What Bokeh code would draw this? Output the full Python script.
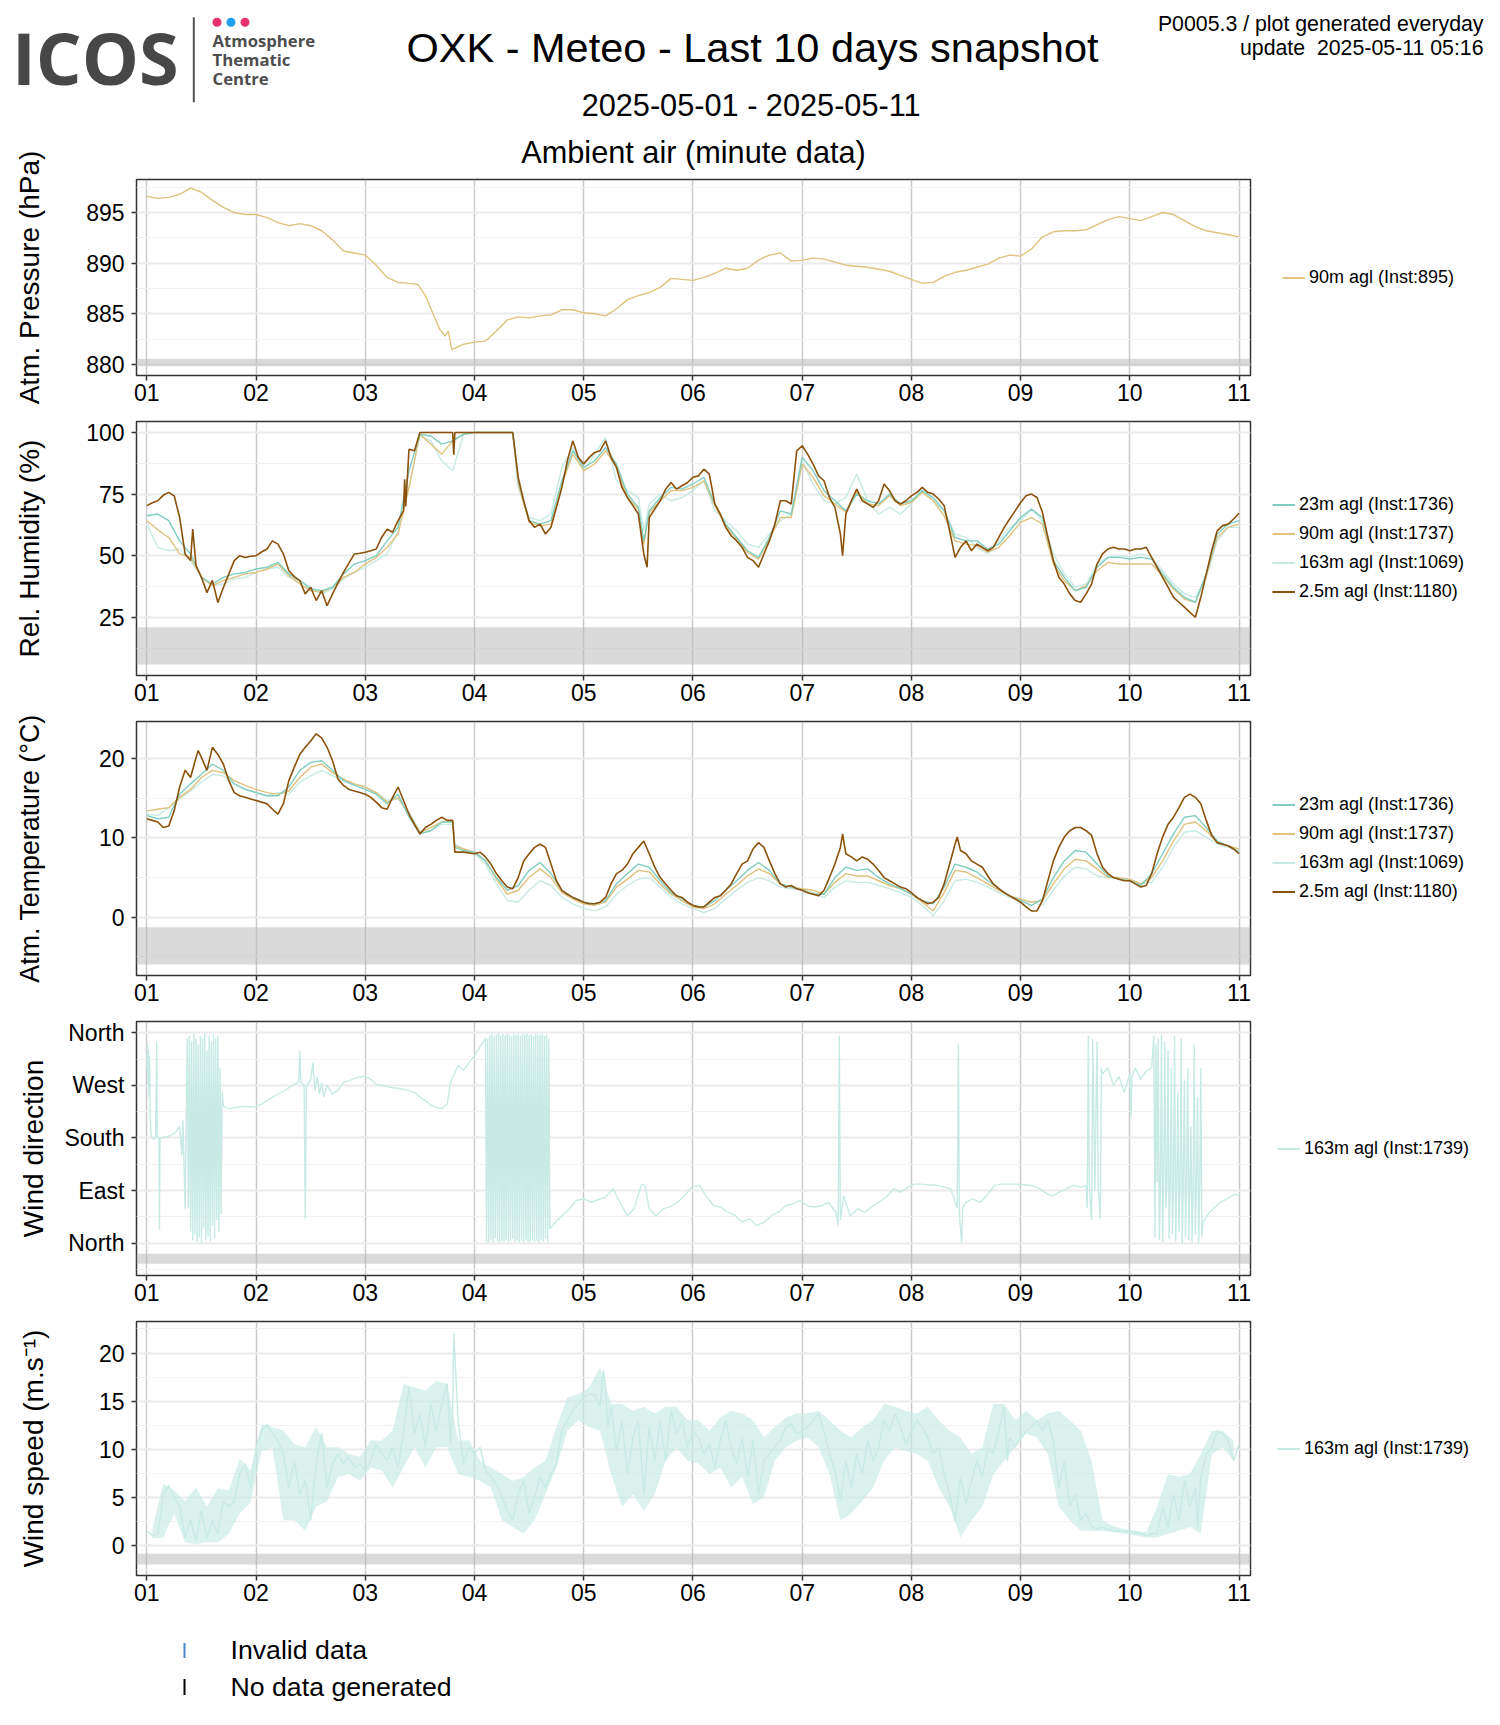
from bokeh.plotting import figure
from bokeh.models import Range1d, FixedTicker, Legend, LegendItem, BoxAnnotation
from bokeh.layouts import row
from bokeh.embed import file_html
from bokeh.resources import INLINE
from bokeh.core.properties import value

FONT = "Liberation Sans"

# ---------------- data (day offset from 2025-05-01 00:00) ----------------
day_ticks = [0, 1, 2, 3, 4, 5, 6, 7, 8, 9, 10]
day_labels = ["01", "02", "03", "04", "05", "06", "07", "08", "09", "10", "11"]

pres_90m = [(0.0, 896.6), (0.1, 896.4), (0.2, 896.5), (0.3, 896.8), (0.4, 897.4), (0.5, 897.0), (0.6, 896.2),
            (0.7, 895.5), (0.8, 895.0), (0.9, 894.8), (1.0, 894.8), (1.1, 894.5), (1.2, 894.0), (1.3, 893.7),
            (1.4, 893.9), (1.5, 893.7), (1.6, 893.2), (1.7, 892.3), (1.8, 891.2), (1.9, 891.0), (2.0, 890.8),
            (2.1, 889.8), (2.2, 888.6), (2.3, 888.1), (2.4, 888.0), (2.48, 887.9), (2.55, 886.8), (2.62, 885.0),
            (2.68, 883.5), (2.73, 882.8), (2.76, 883.3), (2.79, 881.5), (2.82, 881.6), (2.9, 882.0), (3.0, 882.2),
            (3.1, 882.3), (3.2, 883.3), (3.3, 884.4), (3.4, 884.7), (3.5, 884.6), (3.6, 884.8), (3.7, 884.9),
            (3.8, 885.4), (3.9, 885.4), (4.0, 885.1), (4.1, 885.0), (4.2, 884.8), (4.3, 885.5), (4.4, 886.4),
            (4.5, 886.8), (4.6, 887.1), (4.7, 887.6), (4.8, 888.5), (4.9, 888.4), (5.0, 888.3), (5.1, 888.6),
            (5.2, 889.0), (5.3, 889.5), (5.4, 889.3), (5.5, 889.5), (5.6, 890.3), (5.7, 890.8), (5.8, 891.0),
            (5.9, 890.2), (6.0, 890.3), (6.1, 890.5), (6.2, 890.4), (6.3, 890.1), (6.4, 889.8), (6.5, 889.7),
            (6.6, 889.6), (6.7, 889.4), (6.8, 889.2), (6.9, 888.8), (7.0, 888.4), (7.1, 888.0), (7.2, 888.1),
            (7.3, 888.7), (7.4, 889.1), (7.5, 889.3), (7.6, 889.6), (7.7, 889.9), (7.8, 890.5), (7.9, 890.8),
            (8.0, 890.7), (8.1, 891.4), (8.2, 892.6), (8.3, 893.1), (8.4, 893.2), (8.5, 893.2), (8.6, 893.3),
            (8.7, 893.8), (8.8, 894.3), (8.9, 894.6), (9.0, 894.4), (9.1, 894.2), (9.2, 894.6), (9.3, 895.0),
            (9.4, 894.8), (9.5, 894.2), (9.6, 893.6), (9.7, 893.2), (9.8, 893.0), (9.9, 892.8), (10.0, 892.6)]

rh_2_5m = [(0.00, 70.3), (0.05, 71.5), (0.10, 72.3), (0.15, 74.5), (0.20, 75.7), (0.25, 74.3), (0.30, 65.5),
           (0.35, 50.7), (0.40, 48.0), (0.42, 60.8), (0.45, 46.0), (0.50, 41.2), (0.55, 35.0), (0.60, 40.0),
           (0.65, 31.0), (0.70, 37.0), (0.75, 42.5), (0.80, 48.0), (0.85, 50.0), (0.90, 49.3), (0.95, 49.8),
           (1.00, 50.0), (1.05, 51.5), (1.10, 52.7), (1.15, 56.0), (1.20, 54.7), (1.25, 50.7), (1.30, 43.9),
           (1.35, 41.5), (1.40, 39.9), (1.45, 34.5), (1.50, 37.2), (1.55, 31.8), (1.60, 35.8), (1.65, 29.7),
           (1.70, 34.5), (1.75, 39.0), (1.80, 43.2), (1.85, 47.0), (1.90, 50.7), (1.95, 51.0), (2.00, 51.4),
           (2.05, 52.0), (2.10, 52.7), (2.15, 57.4), (2.20, 60.8), (2.25, 59.5), (2.30, 64.2), (2.35, 68.2),
           (2.36, 81.0), (2.37, 70.0), (2.40, 93.2), (2.45, 92.6), (2.50, 100), (2.80, 100), (2.81, 91.0),
           (2.82, 100), (3.35, 100), (3.40, 81.8), (3.45, 72.3), (3.50, 64.2), (3.55, 61.5), (3.60, 62.8),
           (3.65, 58.8), (3.70, 61.5), (3.75, 69.6), (3.80, 77.7), (3.85, 88.5), (3.90, 96.6), (3.95, 89.9),
           (4.00, 87.2), (4.05, 89.9), (4.10, 91.9), (4.15, 92.6), (4.20, 96.6), (4.25, 89.9), (4.30, 85.8),
           (4.35, 77.7), (4.40, 73.6), (4.45, 70.3), (4.50, 66.9), (4.55, 50.7), (4.58, 45.3), (4.60, 65.5),
           (4.65, 68.9), (4.70, 72.3), (4.75, 77.0), (4.80, 79.7), (4.85, 77.0), (4.90, 78.4), (4.95, 79.7),
           (5.00, 81.8), (5.05, 82.4), (5.10, 85.1), (5.15, 83.1), (5.20, 71.0), (5.25, 66.9), (5.30, 61.5),
           (5.35, 58.1), (5.40, 56.0), (5.45, 53.4), (5.50, 49.3), (5.55, 48.0), (5.60, 45.3), (5.65, 50.7),
           (5.70, 56.0), (5.75, 62.8), (5.80, 72.3), (5.85, 72.3), (5.90, 71.0), (5.95, 92.6), (6.00, 94.6),
           (6.05, 91.2), (6.10, 87.2), (6.15, 82.4), (6.20, 80.4), (6.25, 73.6), (6.30, 69.6), (6.35, 58.8),
           (6.37, 50.0), (6.40, 66.9), (6.45, 72.3), (6.50, 77.0), (6.55, 72.3), (6.60, 71.0), (6.65, 69.6),
           (6.70, 72.3), (6.75, 79.1), (6.80, 76.4), (6.85, 72.3), (6.90, 71.0), (6.95, 72.3), (7.00, 74.3),
           (7.05, 75.7), (7.10, 77.7), (7.15, 75.7), (7.20, 75.0), (7.25, 73.0), (7.30, 70.3), (7.35, 60.1),
           (7.40, 49.3), (7.45, 53.4), (7.50, 56.0), (7.55, 52.0), (7.60, 54.7), (7.65, 53.4), (7.70, 52.0),
           (7.75, 53.4), (7.80, 57.4), (7.85, 61.5), (7.90, 64.9), (7.95, 68.2), (8.00, 71.6), (8.05, 74.3),
           (8.10, 75.0), (8.15, 73.6), (8.20, 67.6), (8.25, 57.4), (8.30, 48.0), (8.35, 41.2), (8.40, 38.5),
           (8.45, 34.5), (8.50, 31.8), (8.55, 31.1), (8.60, 34.5), (8.65, 38.5), (8.70, 46.6), (8.75, 50.7),
           (8.80, 52.7), (8.85, 53.4), (8.90, 52.7), (8.95, 52.7), (9.00, 52.0), (9.05, 52.7), (9.10, 52.7),
           (9.15, 53.4), (9.20, 49.3), (9.25, 45.3), (9.30, 41.2), (9.35, 37.2), (9.40, 33.1), (9.45, 31.1),
           (9.50, 29.1), (9.55, 27.0), (9.60, 25.0), (9.65, 33.1), (9.70, 42.6), (9.75, 52.0), (9.80, 60.1),
           (9.85, 62.2), (9.90, 62.8), (9.95, 64.9), (10.00, 67.2)]

t10 = [0.0, 0.1, 0.2, 0.3, 0.4, 0.5, 0.6, 0.7, 0.8, 0.9, 1.0, 1.1, 1.2, 1.3, 1.4, 1.5, 1.6, 1.7, 1.8, 1.9,
       2.0, 2.1, 2.2, 2.3, 2.4, 2.5, 2.6, 2.7, 2.8, 2.9, 3.0, 3.1, 3.2, 3.3, 3.35, 3.4, 3.5, 3.6, 3.7, 3.8, 3.9,
       4.0, 4.1, 4.2, 4.3, 4.4, 4.5, 4.55, 4.6, 4.7, 4.8, 4.9, 5.0, 5.1, 5.2, 5.3, 5.4, 5.5, 5.6, 5.7, 5.8, 5.9,
       6.0, 6.1, 6.2, 6.3, 6.4, 6.5, 6.6, 6.7, 6.8, 6.9, 7.0, 7.1, 7.2, 7.3, 7.4, 7.5, 7.6, 7.7, 7.8, 7.9,
       8.0, 8.1, 8.2, 8.3, 8.4, 8.5, 8.6, 8.7, 8.8, 8.9, 9.0, 9.1, 9.2, 9.3, 9.4, 9.5, 9.6, 9.7, 9.8, 9.9, 10.0]

rh_23m = [66.2, 66.9, 64.2, 56.0, 50.7, 41.2, 38.5, 41.2, 42.6, 43.2, 44.6, 45.3, 47.3, 42.6, 39.9, 36.5, 35.8,
          37.2, 42.6, 46.6, 48.0, 50.0, 56.0, 61.5, 84.5, 99.3, 98.6, 95.3, 96.6, 99.3, 100, 100, 100, 100, 100,
          80.4, 64.2, 62.8, 64.2, 80.4, 92.6, 85.8, 88.5, 93.9, 87.2, 75.0, 69.6, 56.0, 68.2, 73.6, 77.7, 77.0,
          79.1, 81.8, 71.0, 62.8, 57.4, 52.0, 49.3, 57.4, 68.2, 66.9, 89.9, 84.5, 76.4, 72.3, 68.2, 75.0, 72.3,
          71.0, 75.0, 71.0, 72.3, 76.4, 73.6, 68.2, 57.4, 56.0, 56.0, 52.7, 54.7, 60.1, 65.5, 68.9, 65.5, 48.0,
          41.2, 35.8, 37.2, 45.3, 49.3, 49.3, 48.6, 49.3, 48.6, 42.6, 37.2, 33.1, 31.1, 42.6, 58.8, 62.8, 64.2]
rh_90m = [64.2, 60.5, 57.4, 50.7, 49.3, 41.2, 37.8, 39.9, 41.2, 42.6, 43.2, 44.6, 46.6, 41.9, 38.5, 35.8, 35.1,
          37.2, 41.2, 43.2, 46.6, 49.3, 53.4, 58.8, 77.7, 99.3, 95.3, 91.2, 96.6, 99.3, 100, 100, 100, 100, 100,
          79.1, 63.5, 62.2, 62.8, 79.1, 91.2, 84.5, 87.2, 92.6, 85.8, 73.6, 68.9, 54.7, 67.6, 72.3, 76.4, 76.4,
          77.7, 80.4, 70.3, 62.2, 56.8, 51.4, 48.6, 56.8, 65.5, 65.5, 87.2, 81.8, 74.3, 71.0, 67.6, 75.7, 71.0,
          70.3, 74.3, 70.3, 71.6, 75.7, 72.3, 66.2, 56.0, 54.7, 54.1, 51.4, 53.4, 58.1, 63.5, 65.5, 62.8, 46.6,
          39.9, 35.8, 37.8, 43.9, 47.3, 46.6, 46.6, 46.6, 46.6, 41.9, 36.5, 32.4, 31.1, 41.9, 57.4, 61.5, 62.8]
rh_163m = [62.8, 53.4, 52.0, 52.7, 48.0, 41.2, 37.8, 38.5, 40.5, 41.2, 43.2, 44.6, 45.3, 41.2, 39.9, 37.2, 34.5,
           36.5, 40.5, 43.2, 45.3, 48.0, 50.7, 60.1, 77.7, 98.6, 96.6, 88.5, 84.5, 99.3, 100, 100, 100, 100, 100,
           77.7, 65.5, 64.2, 66.9, 85.8, 93.9, 84.5, 91.2, 98.0, 80.4, 76.4, 73.6, 60.1, 71.0, 75.0, 72.3, 73.6,
           76.4, 80.4, 68.2, 64.2, 60.1, 54.7, 53.4, 58.8, 64.2, 66.9, 88.5, 79.1, 72.3, 71.0, 73.6, 83.1, 72.3,
           66.9, 69.6, 66.9, 71.0, 77.7, 72.3, 68.2, 58.8, 57.4, 53.4, 50.7, 56.0, 61.5, 64.2, 68.9, 64.2, 50.7,
           42.6, 37.2, 38.5, 46.6, 49.3, 50.0, 49.3, 50.7, 49.3, 43.9, 38.5, 34.5, 33.1, 41.2, 56.0, 61.5, 61.5]

ta_2_5m = [(0.00, 12.4), (0.05, 12.2), (0.10, 12.0), (0.15, 11.3), (0.20, 11.5), (0.25, 13.4), (0.30, 16.4),
           (0.35, 18.5), (0.40, 17.6), (0.45, 20.1), (0.47, 21.0), (0.50, 20.1), (0.55, 18.5), (0.60, 21.4),
           (0.65, 20.5), (0.70, 19.3), (0.75, 17.2), (0.80, 15.7), (0.85, 15.3), (0.90, 15.1), (0.95, 14.9),
           (1.00, 14.7), (1.05, 14.5), (1.10, 14.3), (1.15, 13.6), (1.20, 13.0), (1.25, 14.3), (1.30, 17.2),
           (1.35, 18.9), (1.40, 20.5), (1.45, 21.4), (1.50, 22.2), (1.55, 23.1), (1.60, 22.6), (1.65, 21.4),
           (1.70, 19.7), (1.75, 17.4), (1.80, 16.6), (1.85, 16.1), (1.90, 15.9), (1.95, 15.7), (2.00, 15.5),
           (2.05, 15.1), (2.10, 14.5), (2.15, 13.8), (2.20, 13.6), (2.25, 15.1), (2.30, 16.4), (2.35, 14.7),
           (2.40, 13.0), (2.45, 11.7), (2.50, 10.5), (2.55, 11.3), (2.60, 11.7), (2.65, 12.2), (2.70, 12.6),
           (2.75, 12.2), (2.80, 12.2), (2.82, 8.2), (2.90, 8.2), (3.00, 8.0), (3.05, 8.2), (3.10, 7.6),
           (3.15, 6.7), (3.20, 5.5), (3.25, 4.6), (3.30, 3.8), (3.35, 3.6), (3.40, 5.0), (3.45, 7.1),
           (3.50, 8.0), (3.55, 8.8), (3.60, 9.2), (3.65, 8.8), (3.70, 6.7), (3.75, 4.6), (3.80, 3.4),
           (3.85, 2.9), (3.90, 2.5), (3.95, 2.2), (4.00, 1.9), (4.05, 1.7), (4.10, 1.7), (4.15, 1.9),
           (4.20, 2.5), (4.25, 4.2), (4.30, 5.5), (4.35, 5.9), (4.40, 6.7), (4.45, 8.0), (4.50, 8.8),
           (4.55, 9.6), (4.60, 8.0), (4.65, 6.3), (4.70, 5.0), (4.75, 4.2), (4.80, 3.4), (4.85, 2.7),
           (4.90, 2.5), (4.95, 1.9), (5.00, 1.5), (5.05, 1.3), (5.10, 1.3), (5.15, 1.9), (5.20, 2.5),
           (5.25, 2.7), (5.30, 3.4), (5.35, 4.2), (5.40, 5.5), (5.45, 6.7), (5.50, 7.1), (5.55, 8.6),
           (5.60, 9.4), (5.65, 8.8), (5.70, 7.1), (5.75, 5.5), (5.80, 4.2), (5.85, 3.8), (5.90, 4.0),
           (5.95, 3.6), (6.00, 3.4), (6.05, 3.1), (6.10, 2.9), (6.15, 2.7), (6.20, 3.4), (6.25, 5.0),
           (6.30, 6.7), (6.35, 8.8), (6.37, 10.5), (6.40, 8.0), (6.45, 7.6), (6.50, 7.1), (6.55, 7.6),
           (6.60, 7.3), (6.65, 6.7), (6.70, 5.9), (6.75, 5.0), (6.80, 4.6), (6.85, 4.2), (6.90, 3.8),
           (6.95, 3.6), (7.00, 3.1), (7.05, 2.5), (7.10, 2.1), (7.15, 1.7), (7.20, 1.9), (7.25, 2.5),
           (7.30, 4.2), (7.35, 6.7), (7.40, 9.2), (7.42, 10.1), (7.45, 8.4), (7.50, 8.0), (7.55, 7.1),
           (7.60, 6.7), (7.65, 6.3), (7.70, 5.2), (7.75, 4.2), (7.80, 3.6), (7.85, 3.1), (7.90, 2.7),
           (7.95, 2.3), (8.00, 1.9), (8.05, 1.3), (8.10, 0.8), (8.15, 0.8), (8.20, 2.1), (8.25, 4.6),
           (8.30, 7.1), (8.35, 8.8), (8.40, 10.1), (8.45, 10.9), (8.50, 11.3), (8.55, 11.3), (8.60, 10.9),
           (8.65, 10.3), (8.70, 8.0), (8.75, 6.3), (8.80, 5.5), (8.85, 5.0), (8.90, 4.8), (8.95, 4.6),
           (9.00, 4.6), (9.05, 4.2), (9.10, 3.8), (9.15, 4.0), (9.20, 5.5), (9.25, 8.0), (9.30, 10.1),
           (9.35, 11.7), (9.40, 12.6), (9.45, 13.8), (9.50, 15.1), (9.55, 15.5), (9.60, 15.1), (9.65, 14.3),
           (9.70, 12.2), (9.75, 10.3), (9.80, 9.4), (9.85, 9.2), (9.90, 9.0), (9.95, 8.6), (10.00, 8.0)]

t10b = [0.0, 0.1, 0.2, 0.3, 0.4, 0.5, 0.6, 0.7, 0.8, 0.9, 1.0, 1.1, 1.2, 1.3, 1.4, 1.5, 1.6, 1.7, 1.8, 1.9,
        2.0, 2.1, 2.2, 2.3, 2.4, 2.5, 2.6, 2.7, 2.8, 2.82, 2.9, 3.0, 3.1, 3.2, 3.3, 3.4, 3.5, 3.6, 3.7, 3.8, 3.9,
        4.0, 4.1, 4.2, 4.3, 4.4, 4.5, 4.6, 4.7, 4.8, 4.9, 5.0, 5.1, 5.2, 5.3, 5.4, 5.5, 5.6, 5.7, 5.8, 5.9,
        6.0, 6.1, 6.2, 6.3, 6.4, 6.5, 6.6, 6.7, 6.8, 6.9, 7.0, 7.1, 7.2, 7.3, 7.4, 7.5, 7.6, 7.7, 7.8, 7.9,
        8.0, 8.1, 8.2, 8.3, 8.4, 8.5, 8.6, 8.7, 8.8, 8.9, 9.0, 9.1, 9.2, 9.3, 9.4, 9.5, 9.6, 9.7, 9.8, 9.9, 10.0]

ta_23m = [12.8, 12.4, 12.6, 15.5, 16.8, 18.0, 19.3, 18.5, 16.8, 16.1, 15.7, 15.3, 15.3, 16.4, 18.5, 19.5, 19.7,
          18.5, 17.2, 16.6, 16.1, 15.5, 14.3, 15.5, 12.6, 10.5, 10.9, 12.0, 12.0, 8.8, 8.4, 8.2, 7.1, 5.0, 3.4,
          4.0, 5.9, 6.9, 5.5, 3.4, 2.5, 1.9, 1.7, 2.1, 4.2, 5.5, 6.7, 6.3, 4.6, 3.1, 2.3, 1.5, 1.3, 2.1, 3.4,
          4.6, 5.9, 6.9, 5.9, 4.2, 3.8, 3.4, 2.9, 2.9, 5.0, 6.3, 5.9, 6.1, 5.0, 4.2, 3.6, 2.9, 2.1, 1.7, 3.8,
          6.7, 6.3, 5.7, 4.6, 3.6, 2.7, 2.1, 1.5, 2.3, 5.0, 7.1, 8.4, 8.2, 6.7, 5.2, 4.8, 4.6, 4.0, 5.5, 8.0,
          10.5, 12.6, 12.8, 11.3, 9.6, 9.0, 8.2]
ta_90m = [13.4, 13.6, 13.8, 15.1, 16.1, 17.6, 18.5, 18.2, 17.2, 16.6, 16.1, 15.7, 15.5, 15.9, 17.6, 18.9, 19.3,
          18.2, 17.4, 16.8, 16.4, 15.7, 14.5, 15.1, 13.0, 10.7, 11.3, 12.0, 12.2, 9.0, 8.6, 8.2, 7.1, 4.8, 2.9,
          3.4, 5.0, 6.1, 5.0, 3.1, 2.3, 1.7, 1.5, 1.9, 3.8, 4.8, 5.9, 5.7, 4.2, 2.9, 2.1, 1.3, 1.1, 1.7, 2.9,
          4.0, 5.2, 6.1, 5.5, 4.2, 3.8, 3.6, 3.4, 2.9, 4.4, 5.5, 5.2, 5.2, 4.6, 4.0, 3.6, 2.9, 1.9, 0.8, 3.1,
          5.9, 5.7, 5.0, 4.2, 3.4, 2.7, 2.3, 1.9, 2.1, 4.2, 6.1, 7.3, 7.1, 6.1, 5.0, 5.0, 4.8, 4.2, 5.0, 7.1,
          9.6, 11.7, 12.0, 10.9, 9.4, 9.0, 8.6]
ta_163m = [13.0, 12.8, 13.8, 14.9, 15.9, 17.0, 18.0, 17.8, 16.8, 16.1, 15.7, 15.3, 15.7, 15.5, 17.0, 17.8, 18.5,
           17.8, 17.2, 16.8, 16.4, 15.7, 14.7, 14.9, 13.2, 10.9, 10.9, 11.7, 11.7, 9.2, 8.6, 8.0, 6.7, 4.2, 2.1,
           1.9, 3.4, 4.6, 4.0, 2.5, 1.7, 1.1, 0.8, 1.3, 2.9, 4.0, 4.8, 5.0, 3.8, 2.5, 1.7, 1.1, 0.6, 1.1, 2.3,
           3.4, 4.4, 5.0, 4.6, 3.8, 3.6, 3.6, 3.1, 2.5, 3.8, 4.6, 4.4, 4.4, 4.0, 3.6, 3.1, 2.5, 1.5, 0.2, 2.1,
           4.6, 4.8, 4.4, 3.8, 3.1, 2.5, 2.1, 1.9, 1.5, 3.4, 5.2, 6.3, 6.1, 5.2, 5.0, 5.0, 4.6, 4.2, 4.4, 6.3,
           8.8, 10.7, 10.9, 10.1, 9.2, 8.8, 8.4]

wd_163m = [(0.000, 300), (0.005, 340), (0.010, 270), (0.015, 330), (0.020, 250), (0.025, 320), (0.030, 210),
           (0.040, 185), (0.050, 180), (0.060, 178), (0.080, 180), (0.090, 345), (0.095, 182), (0.110, 180),
           (0.115, 22), (0.120, 180), (0.150, 181), (0.200, 183), (0.250, 187), (0.300, 200), (0.320, 150),
           (0.330, 210), (0.350, 59), (0.360, 200), (0.37, 350), (0.38, 60), (0.39, 355), (0.40, 20),
           (0.41, 345), (0.42, 5), (0.43, 358), (0.44, 15), (0.45, 350), (0.46, 2), (0.47, 340), (0.48, 10),
           (0.49, 355), (0.50, 0), (0.51, 350), (0.52, 25), (0.53, 358), (0.54, 5), (0.55, 330), (0.56, 12),
           (0.57, 355), (0.58, 3), (0.59, 345), (0.60, 30), (0.61, 358), (0.62, 8), (0.63, 350), (0.64, 40),
           (0.65, 355), (0.66, 20), (0.67, 300), (0.68, 50), (0.69, 260), (0.70, 235), (0.75, 230),
           (0.80, 232), (0.85, 233), (0.90, 234), (0.95, 233), (1.00, 234), (1.05, 238), (1.10, 244),
           (1.15, 250), (1.20, 255), (1.25, 260), (1.30, 266), (1.35, 272), (1.39, 275), (1.40, 329),
           (1.41, 275), (1.44, 270), (1.45, 42), (1.46, 268), (1.50, 280), (1.52, 309), (1.54, 262),
           (1.56, 285), (1.58, 255), (1.60, 275), (1.62, 250), (1.65, 270), (1.70, 255), (1.75, 262),
           (1.80, 275), (1.85, 278), (1.90, 282), (1.95, 284), (2.00, 286), (2.05, 280), (2.10, 272),
           (2.15, 270), (2.20, 268), (2.25, 266), (2.30, 265), (2.35, 263), (2.40, 261), (2.45, 258),
           (2.50, 250), (2.55, 244), (2.60, 236), (2.65, 232), (2.70, 230), (2.75, 238), (2.78, 275),
           (2.85, 304), (2.90, 296), (2.95, 309), (3.00, 321), (3.03, 330), (3.08, 345), (3.10, 352),
           (3.11, 2), (3.12, 350), (3.13, 1), (3.14, 356), (3.15, 6), (3.16, 359), (3.17, 1), (3.18, 354),
           (3.19, 8), (3.20, 357), (3.21, 3), (3.22, 359), (3.23, 1), (3.24, 355), (3.25, 4), (3.26, 358),
           (3.27, 2), (3.28, 356), (3.29, 6), (3.30, 359), (3.31, 1), (3.32, 357), (3.33, 3), (3.34, 354),
           (3.35, 7), (3.36, 358), (3.37, 2), (3.38, 356), (3.39, 5), (3.40, 359), (3.41, 1), (3.42, 355),
           (3.43, 4), (3.44, 358), (3.45, 2), (3.46, 357), (3.47, 6), (3.48, 359), (3.49, 1), (3.50, 356),
           (3.51, 3), (3.52, 358), (3.53, 5), (3.54, 355), (3.55, 2), (3.56, 359), (3.57, 4), (3.58, 357),
           (3.59, 1), (3.60, 356), (3.61, 6), (3.62, 358), (3.63, 3), (3.64, 355), (3.65, 8), (3.66, 357),
           (3.67, 2), (3.68, 350), (3.69, 24), (3.74, 36), (3.80, 47), (3.87, 59), (3.93, 73), (4.00, 76),
           (4.07, 70), (4.20, 79), (4.27, 93), (4.33, 70), (4.40, 47), (4.46, 59), (4.53, 101), (4.56, 99),
           (4.60, 59), (4.66, 47), (4.73, 59), (4.79, 62), (4.86, 70), (4.92, 81), (4.99, 96), (5.06, 99),
           (5.12, 81), (5.19, 64), (5.25, 62), (5.32, 53), (5.39, 47), (5.45, 36), (5.52, 42), (5.58, 30),
           (5.65, 36), (5.72, 47), (5.78, 53), (5.85, 64), (5.91, 67), (5.98, 73), (6.05, 64), (6.11, 62),
           (6.18, 64), (6.24, 70), (6.31, 53), (6.33, 30), (6.34, 355), (6.35, 40), (6.38, 81), (6.44, 47),
           (6.51, 59), (6.57, 53), (6.64, 62), (6.70, 70), (6.77, 79), (6.84, 93), (6.90, 87), (6.97, 96),
           (7.03, 101), (7.10, 101), (7.16, 100), (7.23, 99), (7.30, 96), (7.36, 93), (7.42, 60), (7.43, 340),
           (7.44, 47), (7.46, 2), (7.47, 60), (7.50, 70), (7.56, 76), (7.63, 70), (7.69, 81), (7.76, 99),
           (7.82, 101), (7.89, 101), (7.95, 101), (8.09, 99), (8.15, 96), (8.22, 87), (8.29, 81), (8.35, 87),
           (8.42, 93), (8.48, 99), (8.55, 96), (8.60, 99), (8.61, 60), (8.62, 355), (8.63, 95), (8.65, 40),
           (8.66, 350), (8.68, 90), (8.70, 345), (8.71, 100), (8.73, 42), (8.74, 300), (8.75, 290),
           (8.80, 300), (8.85, 270), (8.90, 285), (8.95, 258), (9.00, 290), (9.01, 215), (9.02, 285),
           (9.05, 300), (9.10, 280), (9.15, 295), (9.20, 300), (9.22, 355), (9.23, 10), (9.24, 340),
           (9.25, 104), (9.26, 350), (9.27, 5), (9.28, 100), (9.29, 358), (9.30, 2), (9.31, 110), (9.32, 345),
           (9.33, 60), (9.34, 100), (9.35, 330), (9.36, 8), (9.37, 105), (9.38, 300), (9.39, 15), (9.40, 100),
           (9.41, 355), (9.42, 3), (9.43, 104), (9.44, 260), (9.45, 20), (9.46, 100), (9.47, 350), (9.48, 0),
           (9.49, 110), (9.50, 280), (9.51, 10), (9.52, 104), (9.53, 300), (9.54, 5), (9.55, 100), (9.56, 200),
           (9.57, 2), (9.58, 95), (9.59, 340), (9.60, 15), (9.61, 100), (9.62, 250), (9.63, 0), (9.64, 90),
           (9.65, 300), (9.66, 10), (9.67, 36), (9.73, 53), (9.83, 70), (9.96, 84), (10.00, 82)]

ws_163m = [(0.00, 1.5), (0.05, 1.0), (0.10, 1.2), (0.12, 2.6), (0.15, 5.3), (0.20, 6.2), (0.25, 5.0),
           (0.30, 4.0), (0.35, 0.8), (0.40, 2.6), (0.45, 0.5), (0.50, 3.6), (0.55, 0.8), (0.60, 2.6),
           (0.65, 1.2), (0.70, 4.6), (0.75, 4.0), (0.80, 4.6), (0.85, 7.4), (0.90, 8.5), (0.95, 6.0),
           (1.00, 10.2), (1.05, 11.9), (1.10, 12.6), (1.15, 11.6), (1.20, 10.9), (1.25, 9.5), (1.30, 6.0),
           (1.35, 8.8), (1.40, 5.3), (1.45, 6.7), (1.50, 2.6), (1.55, 8.5), (1.60, 11.6), (1.65, 6.0),
           (1.70, 8.5), (1.75, 9.5), (1.80, 8.5), (1.85, 9.2), (1.90, 8.1), (1.95, 8.5), (2.00, 7.8),
           (2.05, 8.8), (2.10, 10.5), (2.15, 9.5), (2.20, 8.8), (2.25, 10.2), (2.30, 8.1), (2.35, 11.9),
           (2.40, 16.4), (2.45, 11.6), (2.50, 13.7), (2.55, 10.2), (2.60, 14.7), (2.65, 11.9), (2.70, 14.7),
           (2.75, 16.8), (2.78, 10.5), (2.80, 14.4), (2.81, 22.1), (2.85, 13.0), (2.90, 8.5), (2.95, 10.2),
           (3.00, 9.5), (3.05, 10.2), (3.10, 7.8), (3.15, 7.1), (3.20, 6.4), (3.25, 5.0), (3.30, 3.6),
           (3.35, 2.6), (3.40, 5.3), (3.45, 6.7), (3.50, 3.3), (3.55, 5.0), (3.60, 7.1), (3.65, 6.0),
           (3.70, 7.4), (3.75, 8.5), (3.80, 11.9), (3.85, 13.0), (3.90, 14.0), (3.95, 14.7), (4.00, 15.4),
           (4.05, 15.7), (4.10, 15.7), (4.15, 14.4), (4.18, 18.2), (4.20, 16.4), (4.22, 12.3), (4.25, 14.4),
           (4.30, 9.8), (4.35, 13.0), (4.40, 7.4), (4.45, 11.2), (4.50, 13.0), (4.55, 5.3), (4.60, 12.3),
           (4.65, 8.8), (4.70, 13.0), (4.75, 8.8), (4.80, 14.0), (4.85, 11.6), (4.90, 13.0), (4.95, 10.2),
           (5.00, 11.9), (5.05, 11.2), (5.10, 9.5), (5.15, 10.5), (5.20, 8.1), (5.25, 10.9), (5.30, 13.0),
           (5.35, 10.2), (5.40, 8.5), (5.45, 11.2), (5.50, 7.1), (5.55, 10.9), (5.60, 5.3), (5.65, 8.8),
           (5.70, 9.5), (5.75, 10.2), (5.80, 10.9), (5.85, 12.3), (5.90, 12.6), (5.95, 11.6), (6.00, 11.9),
           (6.05, 12.3), (6.10, 13.0), (6.15, 13.7), (6.20, 11.9), (6.25, 9.5), (6.30, 7.8), (6.35, 4.6),
           (6.40, 8.8), (6.45, 6.0), (6.50, 9.5), (6.55, 7.4), (6.60, 10.9), (6.65, 8.8), (6.70, 10.2),
           (6.75, 13.0), (6.80, 11.9), (6.85, 13.7), (6.90, 12.3), (6.95, 10.5), (7.00, 11.9), (7.05, 13.0),
           (7.10, 12.3), (7.15, 11.2), (7.20, 9.5), (7.25, 10.2), (7.30, 7.4), (7.35, 5.3), (7.40, 2.6),
           (7.45, 7.1), (7.50, 4.3), (7.55, 6.7), (7.60, 8.8), (7.65, 7.1), (7.70, 10.2), (7.75, 9.5),
           (7.80, 11.9), (7.85, 14.4), (7.88, 8.8), (7.90, 11.2), (7.95, 10.2), (8.00, 11.2), (8.05, 11.9),
           (8.10, 12.3), (8.15, 13.0), (8.20, 11.9), (8.25, 13.0), (8.30, 10.9), (8.35, 6.0), (8.40, 8.8),
           (8.45, 4.0), (8.50, 5.3), (8.55, 2.6), (8.60, 3.3), (8.65, 1.9), (8.70, 1.7), (8.75, 1.9),
           (8.80, 1.7), (8.85, 1.5), (8.90, 1.5), (8.95, 1.4), (9.00, 1.4), (9.05, 1.3), (9.10, 1.2),
           (9.15, 1.0), (9.20, 1.2), (9.25, 1.2), (9.30, 4.0), (9.35, 1.9), (9.40, 5.3), (9.45, 2.6),
           (9.50, 6.7), (9.55, 4.0), (9.60, 6.0), (9.62, 1.9), (9.65, 7.1), (9.70, 9.5), (9.75, 10.2),
           (9.80, 11.9), (9.85, 11.6), (9.90, 10.9), (9.95, 8.8), (10.00, 10.5)]

# spread (min / max) of the noisy wind-speed trace in each 0.1-day slot, centres at 0.05, 0.15, ...
ws_t_mid = [0.05, 0.15, 0.25, 0.35, 0.45, 0.55, 0.65, 0.75, 0.85, 0.95,
            1.05, 1.15, 1.25, 1.35, 1.45, 1.55, 1.65, 1.75, 1.85, 1.95,
            2.05, 2.15, 2.25, 2.35, 2.45, 2.55, 2.65, 2.75, 2.85, 2.95,
            3.05, 3.15, 3.25, 3.35, 3.45, 3.55, 3.65, 3.75, 3.85, 3.95,
            4.05, 4.15, 4.25, 4.35, 4.45, 4.55, 4.65, 4.75, 4.85, 4.95,
            5.05, 5.15, 5.25, 5.35, 5.45, 5.55, 5.65, 5.75, 5.85, 5.95,
            6.05, 6.15, 6.25, 6.35, 6.45, 6.55, 6.65, 6.75, 6.85, 6.95,
            7.05, 7.15, 7.25, 7.35, 7.45, 7.55, 7.65, 7.75, 7.85, 7.95,
            8.05, 8.15, 8.25, 8.35, 8.45, 8.55, 8.65, 8.75, 8.85, 8.95,
            9.05, 9.15, 9.25, 9.35, 9.45, 9.55, 9.65, 9.75, 9.85, 9.95]
ws_lo = [0.7, 0.8, 3.3, 0.3, 0.1, 0.3, 0.3, 1.2, 3.3, 4.5,
         9.8, 10.2, 2.6, 2.6, 1.5, 4.0, 4.6, 7.1, 7.4, 6.7,
         8.1, 7.8, 6.0, 8.1, 10.2, 8.1, 10.2, 10.2, 7.4, 7.1,
         6.7, 6.0, 2.6, 1.9, 1.2, 2.6, 5.3, 8.1, 11.9, 13.0,
         12.3, 11.9, 7.4, 4.0, 5.3, 3.6, 5.3, 8.8, 10.2, 8.8,
         8.5, 7.4, 8.1, 6.0, 7.1, 4.3, 5.0, 8.8, 10.2, 10.9,
         11.2, 10.2, 7.4, 2.6, 3.3, 4.6, 6.0, 8.8, 10.2, 9.8,
         9.5, 8.8, 6.0, 4.0, 0.8, 2.6, 4.0, 7.4, 8.8, 10.2,
         11.6, 11.2, 9.5, 4.0, 2.6, 1.5, 1.5, 1.5, 1.35, 1.2,
         1.0, 0.8, 0.8, 1.2, 1.5, 1.9, 1.2, 9.5, 10.2, 8.8]
ws_hi = [1.7, 6.4, 5.7, 4.6, 6.0, 4.0, 5.9, 5.7, 9.0, 7.8,
         12.6, 12.3, 11.9, 10.5, 10.2, 12.3, 10.2, 10.2, 9.5, 9.2,
         10.9, 10.9, 11.9, 16.8, 16.4, 16.1, 17.1, 16.8, 10.9, 10.9,
         8.8, 8.1, 7.4, 6.7, 7.1, 8.1, 8.8, 12.3, 15.4, 15.7,
         16.4, 18.5, 14.7, 14.7, 14.0, 14.4, 13.7, 14.4, 14.4, 13.0,
         13.0, 11.9, 13.3, 14.0, 13.7, 13.0, 11.2, 12.3, 13.3, 13.7,
         13.7, 14.0, 13.0, 11.9, 11.2, 12.3, 13.0, 14.7, 14.4, 14.0,
         13.7, 14.4, 13.0, 11.9, 11.2, 9.5, 10.2, 14.7, 14.7, 13.0,
         14.0, 13.0, 13.7, 14.0, 13.0, 11.9, 8.8, 2.6, 2.0, 1.7,
         1.5, 1.35, 4.0, 7.4, 7.1, 7.4, 9.5, 11.9, 11.9, 10.9]

C_23 = "#80cdc1"
C_90 = "#dfc27d"
C_163 = "#c7eae5"
C_25 = "#8c510a"

# ---------------- layout constants (pixels) ----------------
W = 1500
FL = 136
FW = 1114
PW = 1256          # width of each panel figure
LW = W - PW        # width of each legend figure
XR = (-0.095, 10.105)


def unzip(pairs):
    return [a for a, b in pairs], [b for a, b in pairs]


def make_panel(fig_h, top, frame_h, yr, majors, minors, ylabels, ylab, lab_std, band, lab_size="28px"):
    p = figure(width=PW, height=fig_h, x_range=Range1d(*XR), y_range=Range1d(*yr),
               output_backend="svg", toolbar_location=None,
               min_border_left=FL, min_border_right=PW - FL - FW, min_border_top=top,
               min_border_bottom=fig_h - top - frame_h)
    p.background_fill_color = "white"
    p.border_fill_color = "white"
    p.outline_line_color = "#333333"
    p.outline_line_width = 1.5
    p.xaxis.ticker = FixedTicker(ticks=day_ticks, minor_ticks=[])
    p.xaxis.major_label_overrides = {t: l for t, l in zip(day_ticks, day_labels)}
    p.yaxis.ticker = FixedTicker(ticks=majors, minor_ticks=minors)
    if ylabels is not None:
        p.yaxis.major_label_overrides = {t: l for t, l in zip(majors, ylabels)}
    for ax in (p.xaxis[0], p.yaxis[0]):
        ax.axis_line_color = None
        ax.major_tick_line_color = "#333333"
        ax.major_tick_line_width = 1.5
        ax.major_tick_in = 0
        ax.major_tick_out = 5
        ax.minor_tick_line_color = None
        ax.major_label_text_font = FONT
        ax.major_label_text_font_size = "23px"
        ax.major_label_text_color = "black"
    p.xaxis.major_label_standoff = 3
    p.yaxis.major_label_standoff = 7
    p.yaxis.axis_label = ylab
    p.yaxis.axis_label_text_font = FONT
    p.yaxis.axis_label_text_font_size = lab_size
    p.yaxis.axis_label_text_font_style = "normal"
    p.yaxis.axis_label_text_color = "black"
    p.yaxis.axis_label_standoff = int(lab_std)
    p.xgrid.grid_line_color = "#a0a0a0"
    p.xgrid.grid_line_alpha = 0.55
    p.xgrid.grid_line_width = 1.5
    p.ygrid.grid_line_color = "#ebebeb"
    p.ygrid.grid_line_width = 1.8
    p.ygrid.minor_grid_line_color = "#f2f2f2"
    p.ygrid.minor_grid_line_width = 1
    p.add_layout(BoxAnnotation(bottom=band[0], top=band[1], fill_color="#b5b5b5", fill_alpha=0.5,
                               line_color=None, level="underlay"))
    return p


def legend_fig(fig_h, top, frame_h, entries, x_off):
    """Legend box standing to the right of a panel (same frame height as the panel)."""
    lf = figure(width=LW, height=fig_h, x_range=Range1d(0, 1), y_range=Range1d(0, 1),
                output_backend="svg", toolbar_location=None,
                min_border_left=0, min_border_right=0, min_border_top=top,
                min_border_bottom=fig_h - top - frame_h)
    lf.axis.visible = False
    lf.grid.visible = False
    lf.outline_line_color = None
    items = []
    for label, color in entries:
        # key-only renderer: its points lie outside this legend box's ranges, only the key is seen
        rr = lf.line(x=[5, 6], y=[5, 5], line_color=color, line_width=2)
        items.append(LegendItem(label=label, renderers=[rr]))
    n = len(entries)
    hgt = n * 21 + (n - 1) * 8
    lg = Legend(items=items, location=(x_off, frame_h / 2 - hgt / 2), orientation="vertical",
                padding=0, margin=0, spacing=8, glyph_width=23, glyph_height=21, label_height=21,
                label_standoff=4, label_text_font=FONT, label_text_font_size="18px",
                label_text_color="black", background_fill_alpha=0, border_line_color=None)
    lf.add_layout(lg, "center")
    return lf


def plain(h):
    f = figure(width=W, height=h, x_range=Range1d(0, W), y_range=Range1d(h, 0),
               output_backend="svg", toolbar_location=None, min_border=0)
    f.axis.visible = False
    f.grid.visible = False
    f.outline_line_color = None
    return f


# ---------------- header ----------------
hd = plain(123)
hd.text(x=[11.5], y=[56], text=["ICOS"], text_font=value("Open Sans"), text_font_style="bold",
        text_font_size=value("72px"), text_color="#474747", text_baseline="alphabetic")
hd.segment(x0=[193.3], y0=[16.7], x1=[193.3], y1=[101.7], line_color="#555555", line_width=2)
hd.scatter(x=[216.5, 230.5, 244.5], y=[21.7, 21.7, 21.7], size=9,
           color=["#e5316f", "#1e9ff2", "#e5316f"], line_color=None)
hd.text(x=[212, 212, 212], y=[40.2, 59.2, 77.7], text=["Atmosphere", "Thematic", "Centre"],
        text_font=value("Open Sans"), text_font_style="bold", text_font_size=value("16.7px"),
        text_color="#4d4d4d", text_baseline="alphabetic")
hd.text(x=[752], y=[47.3], text=["OXK - Meteo - Last 10 days snapshot"], text_font=value(FONT),
        text_font_size=value("41.5px"), text_color="black", text_align="center", text_baseline="alphabetic")
hd.text(x=[750.6], y=[105], text=["2025-05-01 - 2025-05-11"], text_font=value(FONT),
        text_font_size=value("30.7px"), text_color="black", text_align="center", text_baseline="alphabetic")
hd.text(x=[1483, 1483], y=[23.7, 47.7],
        text=["P0005.3 / plot generated everyday", "update\u00a0 2025-05-11 05:16"],
        text_font=value(FONT), text_font_size=value("21.3px"), text_color="black", text_align="right",
        text_baseline="alphabetic")

# ---------------- panels ----------------
LEG4 = [("23m agl (Inst:1736)", C_23), ("90m agl (Inst:1737)", C_90),
        ("163m agl (Inst:1069)", C_163), ("2.5m agl (Inst:1180)", C_25)]

p1 = make_panel(289, 56, 196, (878.91, 898.26), [880, 885, 890, 895], [877.5, 882.5, 887.5, 892.5, 897.5],
                None, "Atm. Pressure (hPa)", 38, (879.83, 880.56))
p1.title.text = "Ambient air (minute data)"
p1.title.align = "center"
p1.title.text_font = FONT
p1.title.text_font_size = "30.7px"
p1.title.text_font_style = "normal"
p1.title.text_color = "black"
p1.title.standoff = 19
tx, vy = unzip(pres_90m)
p1.line(tx, vy, line_color=C_90, line_width=1.4)
l1 = legend_fig(289, 56, 196, [("90m agl (Inst:895)", C_90)], 26)

p2 = make_panel(300, 9, 254, (1.37, 104.46), [25, 50, 75, 100], [12.5, 37.5, 62.5, 87.5],
                None, "Rel. Humidity (%)", 38, (5.83, 20.95))
p2.line(t10, rh_163m, line_color=C_163, line_width=1.4)
p2.line(t10, rh_90m, line_color=C_90, line_width=1.4)
p2.line(t10, rh_23m, line_color=C_23, line_width=1.4)
tx, vy = unzip(rh_2_5m)
p2.line(tx, vy, line_color=C_25, line_width=1.6)
l2 = legend_fig(300, 9, 254, LEG4, 16)

p3 = make_panel(300, 9, 254, (-7.33, 24.65), [0, 10, 20], [-5, 5, 15],
                None, "Atm. Temperature (°C)", 51, (-5.95, -1.26), lab_size="26.8px")
p3.line(t10b, ta_163m, line_color=C_163, line_width=1.4)
p3.line(t10b, ta_90m, line_color=C_90, line_width=1.4)
p3.line(t10b, ta_23m, line_color=C_23, line_width=1.4)
tx, vy = unzip(ta_2_5m)
p3.line(tx, vy, line_color=C_25, line_width=1.6)
l3 = legend_fig(300, 9, 254, LEG4, 16)

p4 = make_panel(300, 9, 254, (-55.3, 379.3), [0, 90, 180, 270, 360], [-45, 45, 135, 225, 315],
                ["North", "East", "South", "West", "North"], "Wind direction", 12, (-35.2, -18.0))
tx, vy = unzip(wd_163m)
p4.line(tx, vy, line_color=C_163, line_width=1.4)
l4 = legend_fig(300, 9, 254, [("163m agl (Inst:1739)", C_163)], 21)

p5 = make_panel(300, 9, 254, (-3.15, 23.28), [0, 5, 10, 15, 20], [-2.5, 2.5, 7.5, 12.5, 17.5, 22.5],
                None, "Wind speed (m.s\u207b\u00b9)", 47, (-2.0, -0.89))
p5.varea(x=ws_t_mid, y1=ws_lo, y2=ws_hi, fill_color=C_163, fill_alpha=0.65)
tx, vy = unzip(ws_163m)
p5.line(tx, vy, line_color=C_163, line_width=1.4)
l5 = legend_fig(300, 9, 254, [("163m agl (Inst:1739)", C_163)], 21)

# ---------------- footer ----------------
ft = plain(113)
ft.segment(x0=[184, 184], y0=[30.5, 66.5], x1=[184, 184], y1=[45.5, 82.5],
           line_color=["#4a86c8", "#000000"], line_width=2)
ft.text(x=[230, 230], y=[37.1, 74.1], text=["Invalid data", "No data generated"],
        text_font=value(FONT), text_font_size=value("26.7px"), text_color="black",
        text_baseline="alphabetic")

roots = [hd, row(p1, l1), row(p2, l2), row(p3, l3), row(p4, l4), row(p5, l5), ft]
open("out.html", "w").write(file_html(roots, INLINE))
